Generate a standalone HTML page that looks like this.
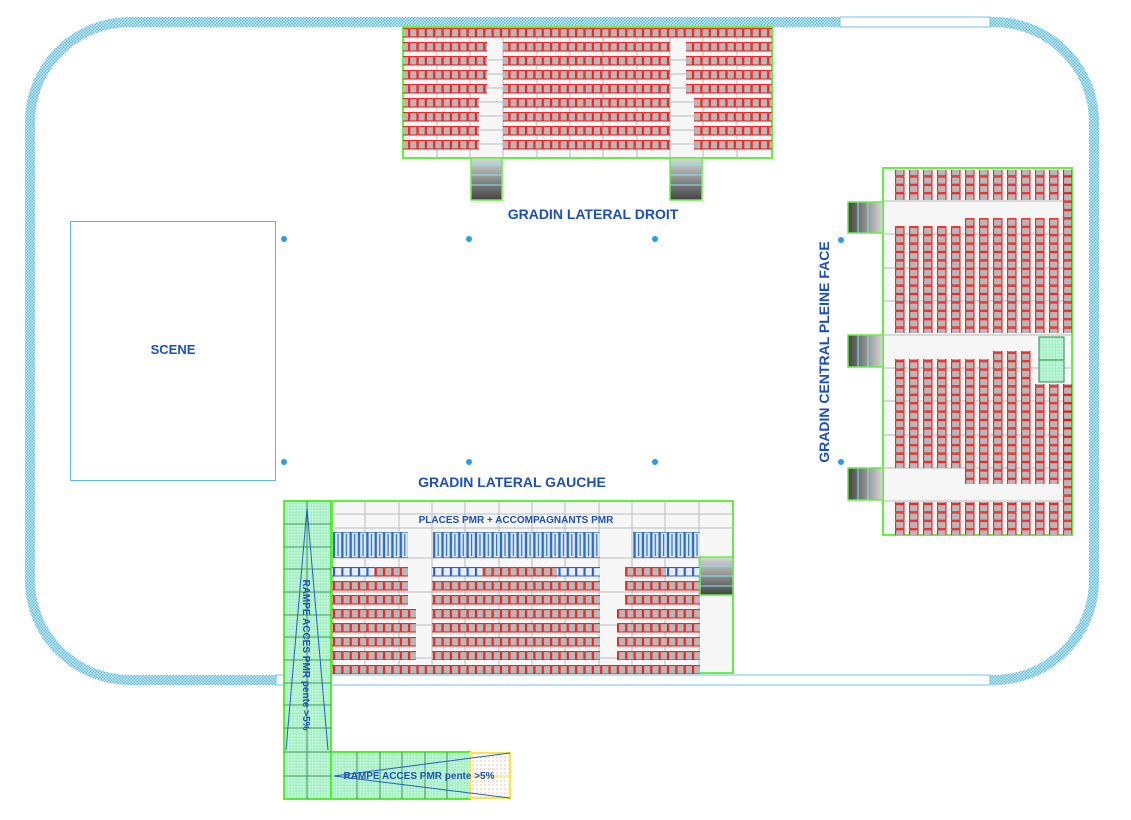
<!DOCTYPE html>
<html><head><meta charset="utf-8"><style>
html,body{margin:0;padding:0;background:#fff;width:1131px;height:820px;overflow:hidden}
svg{display:block}
text{font-family:"Liberation Sans",Arial,sans-serif;font-weight:bold;fill:#1e4fb8}
</style></head><body>
<svg width="1131" height="820" viewBox="0 0 1131 820" xmlns="http://www.w3.org/2000/svg">
<defs>
<pattern id="trk" width="3" height="3" patternUnits="userSpaceOnUse"><rect width="3" height="3" fill="#5ab8e4"/><rect width="1.5" height="1.5" fill="#d8f0fa"/><rect x="1.5" y="1.5" width="1.5" height="1.5" fill="#d8f0fa"/></pattern>
<pattern id="hsTop" x="0" y="28" width="8.35" height="14" patternUnits="userSpaceOnUse"><rect x="0.6" y="0.6" width="7.2" height="8.4" fill="#b8b8b8" stroke="#f01010" stroke-width="1"/></pattern>
<pattern id="hsBot" x="0" y="567" width="8.35" height="14" patternUnits="userSpaceOnUse"><rect x="0.6" y="0.6" width="7.2" height="8.4" fill="#b8b8b8" stroke="#f01010" stroke-width="1"/></pattern>
<pattern id="hsBlue" x="0" y="567" width="8.35" height="14" patternUnits="userSpaceOnUse"><rect x="0.6" y="0.6" width="7.2" height="8.4" fill="#e8eef8" stroke="#2060e0" stroke-width="1"/></pattern>
<pattern id="vs" x="895" y="0" width="14" height="8.4" patternUnits="userSpaceOnUse"><rect x="0.6" y="0.6" width="8.4" height="7.2" fill="#b8b8b8" stroke="#f01010" stroke-width="1"/></pattern>
<pattern id="pmr" x="0" y="532" width="8.35" height="27" patternUnits="userSpaceOnUse"><rect x="0.5" y="0" width="7.3" height="26" fill="#dfe8f5" stroke="#2a6fc0" stroke-width="1.3"/><line x1="4" y1="2" x2="4" y2="24" stroke="#2a6fc0" stroke-width="1.2"/></pattern>
<pattern id="grn" width="3" height="3" patternUnits="userSpaceOnUse"><rect width="3" height="3" fill="#a8f0c8"/><rect width="1.5" height="1.5" fill="#d0f8e0"/></pattern>
<pattern id="yel" width="4" height="4" patternUnits="userSpaceOnUse"><rect width="4" height="4" fill="#fff"/><rect width="2" height="2" fill="#fbe0d0"/></pattern>
<linearGradient id="stV" x1="0" y1="0" x2="0" y2="1"><stop offset="0" stop-color="#d8d8d8"/><stop offset="1" stop-color="#444"/></linearGradient>
<linearGradient id="stH" x1="1" y1="0" x2="0" y2="0"><stop offset="0" stop-color="#d8d8d8"/><stop offset="1" stop-color="#444"/></linearGradient>
</defs>

<rect x="30" y="22" width="1064" height="658" rx="100" fill="none" stroke="url(#trk)" stroke-width="10"/>
<rect x="840" y="17" width="150" height="10" fill="#fff" stroke="#6cc0e8" stroke-width="1"/>
<rect x="276" y="675" width="714" height="10" fill="#fff" stroke="#6cc0e8" stroke-width="1"/>

<rect x="70.5" y="221.5" width="205" height="259" fill="#fff" stroke="#5bb8e0" stroke-width="1"/>
<text x="173" y="354" font-size="13" text-anchor="middle">SCENE</text>

<g fill="#2a9ee0">
<circle cx="284" cy="239" r="3"/><circle cx="469" cy="239" r="3"/><circle cx="655" cy="239" r="3"/>
<circle cx="284" cy="462" r="3"/><circle cx="469" cy="462" r="3"/><circle cx="655" cy="462" r="3"/>
<circle cx="841" cy="240" r="3"/><circle cx="841" cy="462" r="3"/>
</g>

<rect x="403" y="27" width="369" height="131" fill="#f7f7f7" stroke="#66ee44" stroke-width="2"/>
<g stroke="#bbb" stroke-width="1">
<line x1="437" y1="28" x2="437" y2="158"/><line x1="470" y1="28" x2="470" y2="158"/><line x1="503" y1="28" x2="503" y2="158"/><line x1="537" y1="28" x2="537" y2="158"/><line x1="570" y1="28" x2="570" y2="158"/><line x1="603" y1="28" x2="603" y2="158"/><line x1="637" y1="28" x2="637" y2="158"/><line x1="670" y1="28" x2="670" y2="158"/><line x1="703" y1="28" x2="703" y2="158"/><line x1="737" y1="28" x2="737" y2="158"/>
<line x1="403" y1="60" x2="772" y2="60"/><line x1="403" y1="74" x2="772" y2="74"/><line x1="403" y1="88" x2="772" y2="88"/><line x1="403" y1="102" x2="772" y2="102"/><line x1="403" y1="116" x2="772" y2="116"/><line x1="403" y1="130" x2="772" y2="130"/><line x1="403" y1="144" x2="772" y2="144"/>
</g>
<rect x="403" y="28" width="369" height="10" fill="url(#hsTop)"/>
<rect x="403" y="42" width="84" height="52" fill="url(#hsTop)"/>
<rect x="403" y="98" width="76" height="52" fill="url(#hsTop)"/>
<rect x="503" y="42" width="167" height="108" fill="url(#hsTop)"/>
<rect x="686" y="42" width="86" height="52" fill="url(#hsTop)"/>
<rect x="694" y="98" width="78" height="52" fill="url(#hsTop)"/>
<rect x="471" y="158" width="31" height="42" fill="url(#stV)" stroke="#66ee44" stroke-width="1.5"/>
<rect x="670" y="158" width="32" height="42" fill="url(#stV)" stroke="#66ee44" stroke-width="1.5"/>
<g stroke="#7fe8f0" stroke-width="1"><line x1="471" y1="165" x2="502" y2="165"/><line x1="471" y1="175" x2="502" y2="175"/><line x1="471" y1="185" x2="502" y2="185"/><line x1="670" y1="165" x2="702" y2="165"/><line x1="670" y1="175" x2="702" y2="175"/><line x1="670" y1="185" x2="702" y2="185"/></g>
<text x="593" y="219" font-size="14" text-anchor="middle">GRADIN LATERAL DROIT</text>

<rect x="883" y="168" width="189" height="367" fill="#f7f7f7" stroke="#66ee44" stroke-width="2"/>
<g stroke="#bbb" stroke-width="1">
<line x1="883" y1="201" x2="1072" y2="201"/><line x1="883" y1="234" x2="1072" y2="234"/><line x1="883" y1="268" x2="1072" y2="268"/><line x1="883" y1="301" x2="1072" y2="301"/><line x1="883" y1="335" x2="1072" y2="335"/><line x1="883" y1="368" x2="1072" y2="368"/><line x1="883" y1="401" x2="1072" y2="401"/><line x1="883" y1="435" x2="1072" y2="435"/><line x1="883" y1="468" x2="1072" y2="468"/><line x1="883" y1="501" x2="1072" y2="501"/>
</g>
<rect x="895" y="170" width="177" height="30" fill="url(#vs)"/>
<rect x="895" y="226" width="70" height="107" fill="url(#vs)"/>
<rect x="965" y="218" width="98" height="115" fill="url(#vs)"/>
<rect x="1063" y="170" width="9" height="163" fill="url(#vs)"/>
<rect x="895" y="359" width="98" height="109" fill="url(#vs)"/>
<rect x="993" y="351" width="42" height="117" fill="url(#vs)"/>
<rect x="965" y="468" width="98" height="16" fill="url(#vs)"/>
<rect x="1035" y="384" width="37" height="84" fill="url(#vs)"/>
<rect x="1063" y="384" width="9" height="151" fill="url(#vs)"/>
<rect x="895" y="502" width="168" height="33" fill="url(#vs)"/>
<rect x="1039" y="337" width="25" height="45" fill="url(#grn)" stroke="#2a8a4a" stroke-width="1"/>
<line x1="1039" y1="360" x2="1064" y2="360" stroke="#2a8a4a"/>
<g stroke="#66ee44" stroke-width="1.5">
<rect x="848" y="202" width="35" height="31" fill="url(#stH)"/>
<rect x="848" y="335" width="35" height="32" fill="url(#stH)"/>
<rect x="848" y="468" width="35" height="32" fill="url(#stH)"/>
</g>
<g stroke="#7fe8f0"><line x1="858" y1="202" x2="858" y2="233"/><line x1="868" y1="202" x2="868" y2="233"/><line x1="858" y1="335" x2="858" y2="367"/><line x1="868" y1="335" x2="868" y2="367"/><line x1="858" y1="468" x2="858" y2="500"/><line x1="868" y1="468" x2="868" y2="500"/></g>
<text x="0" y="0" font-size="14" text-anchor="middle" transform="translate(829,352) rotate(-90)">GRADIN CENTRAL PLEINE FACE</text>

<text x="512" y="487" font-size="14" text-anchor="middle">GRADIN LATERAL GAUCHE</text>
<rect x="332" y="501" width="401" height="172" fill="#f7f7f7" stroke="#66ee44" stroke-width="2"/>
<g stroke="#bbb" stroke-width="1">
<line x1="365" y1="501" x2="365" y2="673"/><line x1="399" y1="501" x2="399" y2="673"/><line x1="432" y1="501" x2="432" y2="673"/><line x1="465" y1="501" x2="465" y2="673"/><line x1="499" y1="501" x2="499" y2="673"/><line x1="532" y1="501" x2="532" y2="673"/><line x1="565" y1="501" x2="565" y2="673"/><line x1="599" y1="501" x2="599" y2="673"/><line x1="632" y1="501" x2="632" y2="673"/><line x1="665" y1="501" x2="665" y2="673"/><line x1="699" y1="501" x2="699" y2="673"/>
<line x1="332" y1="514" x2="733" y2="514"/><line x1="332" y1="528" x2="733" y2="528"/><line x1="332" y1="558" x2="733" y2="558"/><line x1="332" y1="592" x2="700" y2="592"/><line x1="332" y1="625" x2="700" y2="625"/><line x1="332" y1="658" x2="700" y2="658"/>
</g>
<text x="516" y="523" font-size="10" text-anchor="middle">PLACES PMR + ACCOMPAGNANTS PMR</text>
<rect x="333" y="532" width="75" height="26" fill="url(#pmr)"/>
<rect x="433" y="532" width="167" height="26" fill="url(#pmr)"/>
<rect x="633" y="532" width="67" height="26" fill="url(#pmr)"/>
<rect x="332" y="567" width="76" height="38" fill="url(#hsBot)"/>
<rect x="332" y="567" width="42" height="10" fill="url(#hsBlue)"/>
<rect x="432" y="567" width="168" height="38" fill="url(#hsBot)"/>
<rect x="432" y="567" width="50" height="10" fill="url(#hsBlue)"/>
<rect x="557" y="567" width="43" height="10" fill="url(#hsBlue)"/>
<rect x="625" y="567" width="75" height="38" fill="url(#hsBot)"/>
<rect x="666" y="567" width="34" height="10" fill="url(#hsBlue)"/>
<rect x="332" y="608" width="84" height="52" fill="url(#hsBot)"/>
<rect x="432" y="608" width="168" height="52" fill="url(#hsBot)"/>
<rect x="617" y="608" width="83" height="52" fill="url(#hsBot)"/>
<rect x="332" y="664" width="368" height="10" fill="url(#hsBot)"/>
<rect x="700" y="557" width="33" height="38" fill="url(#stV)" stroke="#66ee44" stroke-width="1.5"/>
<g stroke="#7fe8f0"><line x1="700" y1="566" x2="733" y2="566"/><line x1="700" y1="576" x2="733" y2="576"/><line x1="700" y1="586" x2="733" y2="586"/></g>

<rect x="284" y="501" width="47" height="298" fill="url(#grn)" stroke="#55ee33" stroke-width="2"/>
<rect x="331" y="752" width="139" height="47" fill="url(#grn)" stroke="#55ee33" stroke-width="2"/>
<rect x="470" y="753" width="40" height="45" fill="url(#yel)" stroke="#f5e842" stroke-width="2"/>
<g stroke="#2a7a3a" stroke-width="0.8">
<line x1="307" y1="501" x2="307" y2="799"/>
<line x1="284" y1="524" x2="331" y2="524"/><line x1="284" y1="547" x2="331" y2="547"/><line x1="284" y1="569" x2="331" y2="569"/><line x1="284" y1="592" x2="331" y2="592"/><line x1="284" y1="615" x2="331" y2="615"/><line x1="284" y1="637" x2="331" y2="637"/><line x1="284" y1="660" x2="331" y2="660"/><line x1="284" y1="683" x2="331" y2="683"/><line x1="284" y1="705" x2="331" y2="705"/><line x1="284" y1="728" x2="331" y2="728"/><line x1="284" y1="752" x2="331" y2="752"/><line x1="284" y1="776" x2="331" y2="776"/>
<line x1="357" y1="752" x2="357" y2="799"/><line x1="380" y1="752" x2="380" y2="799"/><line x1="402" y1="752" x2="402" y2="799"/><line x1="425" y1="752" x2="425" y2="799"/><line x1="447" y1="752" x2="447" y2="799"/>
</g>
<g stroke="#2060c0" stroke-width="1" fill="none">
<polyline points="286,750 307,508 328,750"/>
<polyline points="510,753 334,776 510,798"/>
</g>
<line x1="470" y1="776" x2="510" y2="776" stroke="#f5e842"/>
<text x="0" y="0" font-size="10" text-anchor="middle" transform="translate(303,655) rotate(90)">RAMPE ACCES PMR pente &gt;5%</text>
<text x="419" y="779" font-size="10" text-anchor="middle">RAMPE ACCES PMR pente &gt;5%</text>
</svg>
</body></html>
